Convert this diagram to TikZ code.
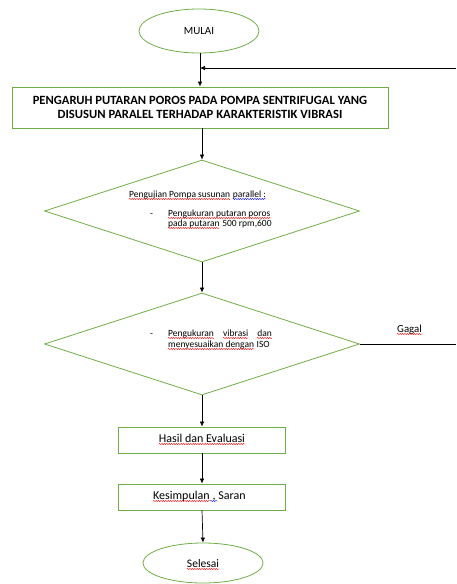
\documentclass[tikz,border=0pt]{standalone}
\usepackage{fontspec}
\setmainfont{Carlito}
\usetikzlibrary{shapes.geometric,arrows.meta,decorations.pathmorphing}
\definecolor{wgreen}{RGB}{112,173,71}
\begin{document}
\begin{tikzpicture}[x=1pt,y=-1pt,
  gline/.style={draw=wgreen,line width=0.8pt},
  flow/.style={draw=black,line width=0.7pt},
  arr/.style={flow,-{Latex[length=5pt,width=4.5pt]}},
  term/.style={gline,ellipse,inner sep=0pt},
  proc/.style={gline,rectangle,inner sep=0pt},
  dec/.style={gline,diamond,inner sep=0pt,minimum width=315pt,minimum height=102pt},
  small/.style={inner sep=0pt,anchor=base west,font=\fontsize{9.5}{10}\selectfont},
  mid/.style={inner sep=0pt,anchor=base west,font=\fontsize{12}{14}\selectfont},
  squig/.style={draw=red,line width=0.4pt,decorate,decoration={snake,amplitude=0.6pt,segment length=2.4pt}},
  gsquig/.style={squig,draw=blue}]
\useasboundingbox (0,0) rectangle (456,584);
% shapes
\node[term,minimum width=120pt,minimum height=44pt,font=\fontsize{11}{12}\selectfont] (mulai) at (199,31) {MULAI};
\node[proc,minimum width=376pt,minimum height=41pt,align=center,
  font=\fontsize{12.6}{14}\selectfont\bfseries] (judul) at (200,107.5)
  {PENGARUH PUTARAN POROS PADA POMPA SENTRIFUGAL YANG\\DISUSUN PARALEL TERHADAP KARAKTERISTIK VIBRASI};
\node[dec] (d1) at (202,211) {};
\node[dec] (d2) at (202,344) {};
\node[proc,minimum width=167pt,minimum height=26pt] (hasil) at (202,440) {};
\node[proc,minimum width=167pt,minimum height=26pt] (kesim) at (202,497) {};
\node[term,minimum width=120pt,minimum height=40pt] (selesai) at (203,563) {};
% texts
\node[small] (t1) at (129,197) {Pengujian Pompa susunan};
\node[small] (t1b) at ([xshift=2.2pt]t1.base east) {parallel :};
\node[small] (t2a) at (150,216) {-};
\node[small] (t2) at (168,216) {Pengukuran putaran poros};
\node[small] (t3) at (168,226) {pada putaran};
\node[small] (t3b) at ([xshift=2.2pt]t3.base east) {500 rpm,600};
\node[small] (u1a) at (150,336) {-};
\node[small] (u1) at (168,336) {Pengukuran};
\node[small] (u1b) at (223,336) {vibrasi};
\node[small,anchor=base east] (u1c) at (272,336) {dan};
\node[small] (u2) at (168,347) {menyesuaikan dengan};
\node[small] (u2b) at ([xshift=2.2pt]u2.base east) {ISO};
\node[small,font=\fontsize{10.8}{12}\selectfont] (gagal) at (397,332) {Gagal};
\node[mid,anchor=base] (hasilt) at (202,442) {Hasil dan Evaluasi};
\node[mid] (k1) at (153,499) {Kesimpulan};
\node[mid] (k2) at ([xshift=2.5pt]k1.base east) {,};
\node[mid] (k3) at ([xshift=2.5pt]k2.base east) {Saran};
\node[inner sep=0pt,anchor=base,font=\fontsize{11.5}{13}\selectfont] (selt) at (203,567) {Selesai};
% spelling marks
\foreach \n in {t1,t2,t3,u1,u1b,u1c,u2,gagal,hasilt,k1,selt}
  \draw[squig] ([yshift=-2pt]\n.base west) -- ([yshift=-2pt]\n.base east);
\draw[gsquig] ([yshift=-2pt]t1b.base west) -- ([yshift=-2pt]t1b.base east);
\draw[gsquig] ([yshift=-2pt,xshift=-2pt]k2.base west) -- ([yshift=-2pt,xshift=2pt]k2.base east);
% feedback
\coordinate (fbtop) at (456,68);
\coordinate (fbbot) at (456,344);
\draw[flow] (d2.east) -- (fbbot);
\draw[arr] (fbtop) -- (fbtop -| judul.north);
% connectors
\draw[arr] (mulai.south -| judul.north) -- (judul.north);
\draw[arr] (judul.south -| d1.north) -- (d1.north);
\draw[arr] (d1.south) -- (d2.north);
\draw[arr] (d2.south) -- (hasil.north);
\draw[arr] (hasil.south) -- (kesim.north);
\draw[arr] (kesim.south) -- (selesai.north);
\end{tikzpicture}
\end{document}
